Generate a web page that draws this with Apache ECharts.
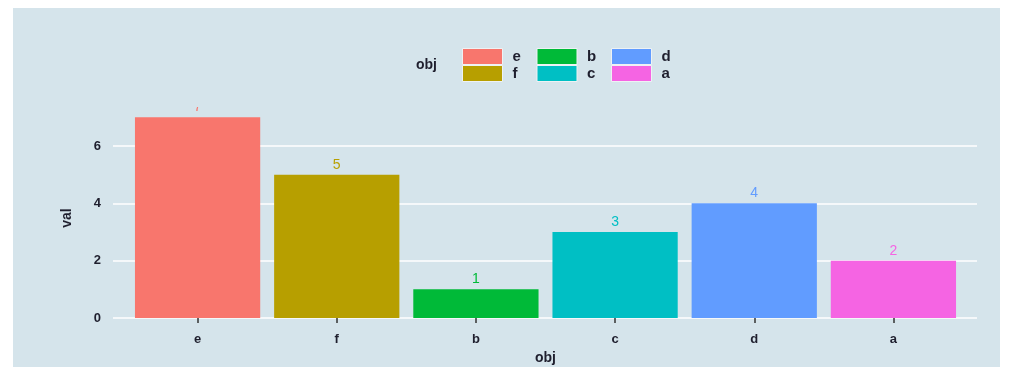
<!DOCTYPE html>
<html><head><meta charset="utf-8">
<script src="https://cdn.jsdelivr.net/npm/echarts@6/dist/echarts.min.js"></script>
<style>html,body{margin:0;padding:0;background:#fff}#c{width:1009px;height:373px}</style>
</head><body><div id="c"></div>
<script>
const categories = ['e', 'f', 'b', 'c', 'd', 'a'];
const values = [7, 5, 1, 3, 4, 2];
const legendRow1 = ['e', 'b', 'd'];
const legendRow2 = ['f', 'c', 'a'];
const palette = {e: '#F8766D', f: '#B79F00', b: '#00BA38', c: '#00BFC4', d: '#619CFF', a: '#F564E3'};

const FONT = 'Liberation Sans';
const TXT = '#1f1f2e';
const PANEL = '#d5e4eb';

const series = categories.map((cat, i) => ({
  name: cat,
  type: 'bar',
  xAxisIndex: 1,
  yAxisIndex: 1,
  barWidth: '90%',
  barGap: '-100%',
  itemStyle: {color: palette[cat]},
  label: {show: true, position: 'top', distance: 3, color: palette[cat], fontFamily: FONT, fontSize: 14},
  data: categories.map((c, j) => (j === i ? values[i] : '-'))
}));

const legendCommon = {
  orient: 'horizontal', left: 462, padding: 0, itemWidth: 40, itemHeight: 16, itemGap: 9,
  icon: 'rect',
  itemStyle: {borderColor: '#eef2f4', borderWidth: 1},
  textStyle: {fontFamily: FONT, fontWeight: 'bold', fontSize: 15, color: TXT, width: 15, padding: [3, 0, 0, 5], lineHeight: 16},
  selectedMode: false
};

const chart = echarts.init(document.getElementById('c'), null, {renderer: 'canvas'});
chart.setOption({
  backgroundColor: '#ffffff',
  animation: false,
  graphic: {elements: [
    {type: 'rect', z: -100, left: 13, top: 8, shape: {width: 987, height: 359}, style: {fill: PANEL}},
    {type: 'rect', z: 100, left: 113, top: 88, shape: {width: 864, height: 19}, style: {fill: PANEL}},
    {type: 'text', x: 67, y: 218, rotation: Math.PI / 2, style: {text: 'val', font: 'bold 14px "Liberation Sans"', fill: TXT, textAlign: 'center', textVerticalAlign: 'middle'}}
  ]},
  title: {text: 'obj', left: 416, top: 58, padding: 0, textStyle: {fontFamily: FONT, fontWeight: 'bold', fontSize: 14, color: TXT}},
  legend: [
    Object.assign({top: 47, data: legendRow1}, legendCommon),
    Object.assign({top: 64, data: legendRow2}, legendCommon)
  ],
  grid: [
    {left: 113, right: 32, top: 146, bottom: 55},
    {left: 128, right: 46, top: 88.67, bottom: 55}
  ],
  xAxis: [
    {type: 'value', gridIndex: 0, show: false, min: 0, max: 1},
    {type: 'category', gridIndex: 1, data: categories, offset: 5,
     axisLine: {show: false},
     axisTick: {show: true, alignWithLabel: true, length: 5, lineStyle: {color: '#333', width: 1.5}},
     axisLabel: {fontFamily: FONT, fontWeight: 'bold', fontSize: 13, color: TXT, margin: 10},
     name: 'obj', nameLocation: 'middle', nameGap: 22,
     nameTextStyle: {fontFamily: FONT, fontWeight: 'bold', fontSize: 14, color: TXT}}
  ],
  yAxis: [
    {type: 'value', gridIndex: 0, min: 0, max: 6, interval: 2,
     axisLine: {show: false}, axisTick: {show: false},
     axisLabel: {fontFamily: FONT, fontWeight: 'bold', fontSize: 13, color: TXT, margin: 12},
     splitLine: {show: true, lineStyle: {color: '#ffffff', width: 1.5}}},
    {type: 'value', gridIndex: 1, min: 0, max: 8, show: false, splitLine: {show: false}}
  ],
  series: series
});
</script></body></html>
